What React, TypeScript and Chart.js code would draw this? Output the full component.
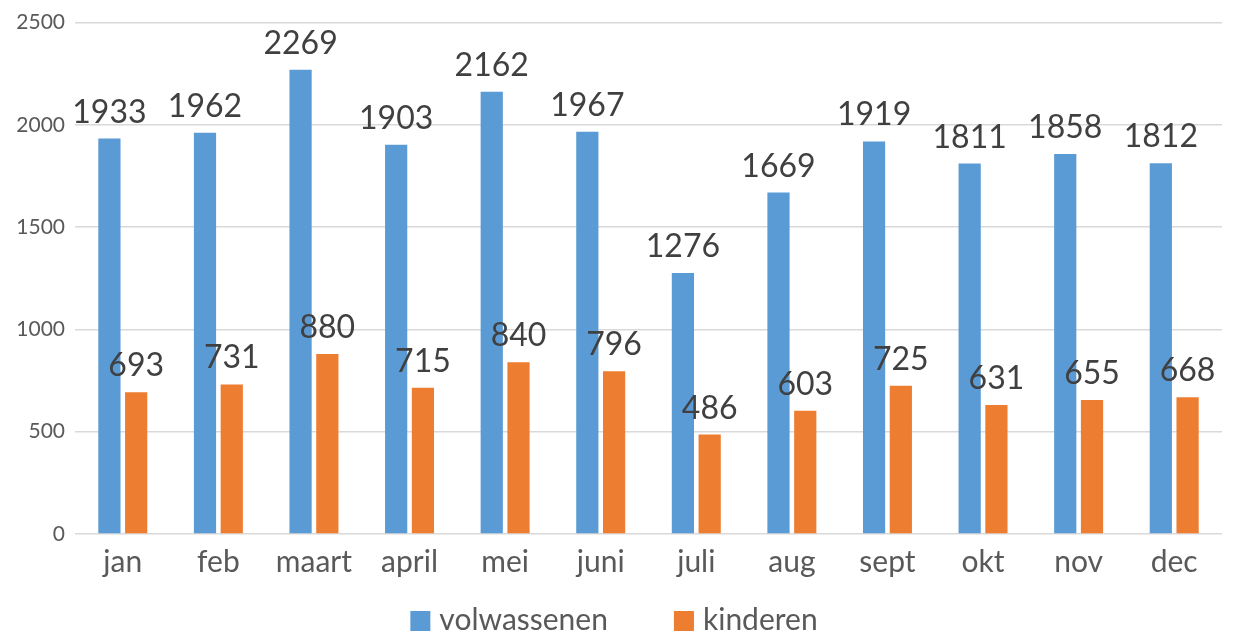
import React, { useEffect, useRef } from "react";
import { Chart, registerables } from "chart.js";

Chart.register(...registerables);

const categories = ["jan", "feb", "maart", "april", "mei", "juni", "juli", "aug", "sept", "okt", "nov", "dec"];
const volwassenen = [1933, 1962, 2269, 1903, 2162, 1967, 1276, 1669, 1919, 1811, 1858, 1812];
const kinderen = [693, 731, 880, 715, 840, 796, 486, 603, 725, 631, 655, 668];
const yTicks = [0, 500, 1000, 1500, 2000, 2500];

const FONT = "Lato, 'Open Sans', sans-serif";

const dataLabelPlugin = {
  id: "dataLabels",
  afterDatasetsDraw(chart: any) {
    const ctx = chart.ctx;
    ctx.save();
    ctx.font = `32px ${FONT}`;
    ctx.fillStyle = "#404040";
    ctx.textAlign = "center";
    ctx.textBaseline = "alphabetic";
    chart.data.datasets.forEach((ds: any, i: number) => {
      const meta = chart.getDatasetMeta(i);
      meta.data.forEach((bar: any, j: number) => {
        ctx.fillText(String(ds.data[j]), bar.x, bar.y - 16);
      });
    });
    ctx.restore();
  },
};

const legendPlugin = {
  id: "customLegend",
  afterDraw(chart: any) {
    const ctx = chart.ctx;
    ctx.save();
    ctx.font = `30px ${FONT}`;
    ctx.textBaseline = "alphabetic";
    ctx.textAlign = "left";
    const box = 20;
    const gapText = 9;
    const gapItem = 66;
    const items = chart.data.datasets.map((ds: any) => ({
      label: ds.label,
      color: ds.backgroundColor,
      w: ctx.measureText(ds.label).width,
    }));
    const total = items.reduce((a: number, it: any) => a + box + gapText + it.w, 0) + gapItem * (items.length - 1);
    let x = 614 - total / 2;
    const boxTop = 611;
    const baseline = 630;
    items.forEach((it: any) => {
      ctx.fillStyle = it.color;
      ctx.fillRect(x, boxTop, box, box);
      ctx.fillStyle = "#595959";
      ctx.fillText(it.label, x + box + gapText, baseline);
      x += box + gapText + it.w + gapItem;
    });
    ctx.restore();
  },
};

export default function App() {
  const ref = useRef<HTMLCanvasElement>(null);
  useEffect(() => {
    document.body.style.margin = "0";
    const chart = new Chart(ref.current!, {
      type: "bar",
      data: {
        labels: categories,
        datasets: [
          { label: "volwassenen", data: volwassenen, backgroundColor: "#5B9BD5", categoryPercentage: 0.56, barPercentage: 0.83 },
          { label: "kinderen", data: kinderen, backgroundColor: "#ED7D31", categoryPercentage: 0.56, barPercentage: 0.83 },
        ],
      },
      options: {
        animation: false,
        responsive: false,
        maintainAspectRatio: false,
        layout: { padding: { left: 0, right: 13, top: 20, bottom: 46 } },
        plugins: {
          tooltip: { enabled: false },
          legend: { display: false },
        },
        scales: {
          x: {
            grid: { display: false },
            border: { display: false },
            ticks: { font: { family: FONT, size: 30 }, color: "#595959", padding: 2 },
            afterFit: (s: any) => { s.height = 56; },
          },
          y: {
            min: 0,
            max: 2500,
            afterBuildTicks: (s: any) => { s.ticks = yTicks.map((v) => ({ value: v })); },
            grid: { color: "#D9D9D9", lineWidth: 1.5, drawTicks: false },
            border: { display: false },
            ticks: { font: { family: FONT, size: 21 }, color: "#595959", padding: 10, callback: (v: any) => String(v) },
            afterFit: (s: any) => { s.width = 75; },
          },
        },
      },
      plugins: [dataLabelPlugin, legendPlugin],
    });
    return () => chart.destroy();
  }, []);
  return <canvas ref={ref} width={1235} height={636} style={{ display: "block" }} />;
}
